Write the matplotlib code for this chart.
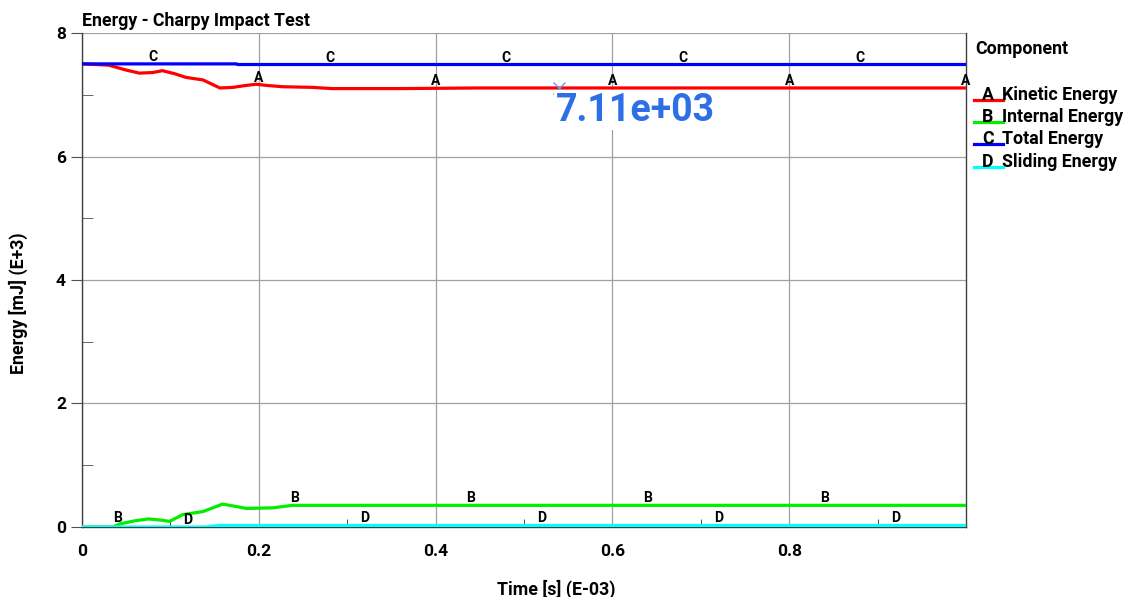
import matplotlib
matplotlib.use('Agg')
import matplotlib.pyplot as plt
from matplotlib.lines import Line2D
import numpy as np

plt.rcParams['font.family'] = ['Roboto', 'DejaVu Sans']
plt.rcParams['font.weight'] = 'bold'

# time in s (E-03), energy in mJ (E+3)
t_kin = [0, 0.03, 0.05, 0.065, 0.08, 0.091, 0.105, 0.118, 0.137, 0.156, 0.171, 0.185, 0.197,
         0.21, 0.227, 0.26, 0.283, 0.36, 0.45, 0.55, 0.7, 0.85, 1.0]
kinetic = [7.50, 7.48, 7.40, 7.35, 7.36, 7.39, 7.34, 7.28, 7.24, 7.11, 7.12, 7.15, 7.17,
           7.15, 7.13, 7.12, 7.10, 7.10, 7.11, 7.11, 7.11, 7.11, 7.11]

t_int = [0, 0.02, 0.035, 0.043, 0.06, 0.075, 0.09, 0.099, 0.114, 0.137, 0.159, 0.175,
         0.186, 0.216, 0.238, 0.3, 0.5, 0.7, 0.9, 1.0]
internal = [0.0, 0.0, 0.0, 0.05, 0.10, 0.13, 0.11, 0.09, 0.20, 0.25, 0.37, 0.33,
            0.30, 0.31, 0.35, 0.35, 0.35, 0.35, 0.35, 0.35]

t_tot = [0, 0.175, 0.176, 1.0]
total = [7.50, 7.50, 7.49, 7.49]

t_sld = [0, 0.1, 0.14, 0.155, 0.3, 0.6, 1.0]
sliding = [0.0, 0.0, 0.0, 0.025, 0.025, 0.025, 0.025]

# curve label positions (letters drawn along each curve)
lab_a = [0.2, 0.4, 0.6, 0.8, 1.0]
lab_b = [0.04, 0.24, 0.44, 0.64, 0.84]
lab_c = [0.08, 0.28, 0.48, 0.68, 0.88]
lab_d = [0.12, 0.32, 0.52, 0.72, 0.92]

legend_names = ['Kinetic Energy', 'Internal Energy', 'Total Energy', 'Sliding Energy']
legend_letters = ['A', 'B', 'C', 'D']
colors = ['#ff0000', '#00ee00', '#0000ff', '#00ffff']

probe_x = 0.54
probe_y = 7.11

W, H = 1129, 597
fig = plt.figure(figsize=(11.29, 5.97), dpi=100)
ax = fig.add_axes([0.0726, 0.1173, 0.7830, 0.8274])

series = [(t_kin, kinetic), (t_int, internal), (t_tot, total), (t_sld, sliding)]
for (tx, ty), c in zip(series, colors):
    ax.plot(tx, ty, color=c, lw=2.3, solid_capstyle='butt', zorder=3)

for letter, pos, (tx, ty) in zip(legend_letters, [lab_a, lab_b, lab_c, lab_d], series):
    for p in pos:
        yv = np.interp(p, tx, ty)
        ax.annotate(letter, (p, yv), xytext=(0, 5), textcoords='offset points',
                    ha='center', va='center', fontsize=10, fontweight='bold',
                    color='black', zorder=4, annotation_clip=False)

ax.set_xlim(0, 1.0)
ax.set_ylim(0, 8)
ax.set_xticks([0, 0.2, 0.4, 0.6, 0.8])
ax.set_xticklabels(['0', '0.2', '0.4', '0.6', '0.8'])
ax.set_xticks([0.1, 0.3, 0.5, 0.7, 0.9], minor=True)
ax.set_yticks([0, 2, 4, 6, 8])
ax.set_yticks([1, 3, 5, 7], minor=True)
ax.grid(True, which='major', color='#a0a0a0', lw=0.9)
ax.tick_params(axis='x', which='major', length=0, labelsize=12.5, pad=12)
ax.tick_params(axis='x', which='minor', direction='in', length=6, color='#303030')
ax.tick_params(axis='y', which='major', length=8, direction='out', labelsize=12.5, color='#505050')
ax.tick_params(axis='y', which='minor', direction='in', length=8, color='#505050')
for lbl in ax.get_xticklabels() + ax.get_yticklabels():
    lbl.set_fontweight('bold')
ax.spines['top'].set_visible(False)
for s in ['left', 'right', 'bottom']:
    ax.spines[s].set_color('#404040')
    ax.spines[s].set_linewidth(1.0)

ax.set_title('Energy - Charpy Impact Test', loc='left', fontsize=12.8, fontweight='bold', pad=5)
fig.text(556.5 / W, 1 - 589 / H, 'Time [s] (E-03)', fontsize=12.8, fontweight='bold',
         ha='center', va='center')
fig.text(18 / W, 1 - 303 / H, 'Energy [mJ] (E+3)', fontsize=12.8, fontweight='bold',
         ha='center', va='center', rotation=90)

# probe marker and value readout
ax.plot([probe_x], [probe_y], marker='x', ms=9, mew=1.0, color='#6a9ae8', zorder=5)
ax.text(0.536, 6.75, '%.2e' % (probe_y * 1000), fontsize=27, fontweight='bold',
        color='#2f6fe6', ha='left', va='center', zorder=6,
        bbox=dict(facecolor='white', edgecolor='none', pad=1))

# legend drawn in figure pixels
fig.text(975 / W, 1 - 49 / H, 'Component', fontsize=12.8, fontweight='bold', va='center')
rows = [95, 117, 139, 162]
for name, letter, c, yr in zip(legend_names, legend_letters, colors, rows):
    yl = 1 - (yr + 5) / H
    fig.add_artist(Line2D([974 / W, 1003 / W], [yl, yl], color=c, lw=2.3,
                          transform=fig.transFigure))
    fig.text(988 / W, 1 - yr / H, letter, fontsize=12.8, fontweight='bold', ha='center', va='center')
    fig.text(1002 / W, 1 - yr / H, name, fontsize=12.8, fontweight='bold', ha='left', va='center')

fig.savefig('out.png', dpi=100)
